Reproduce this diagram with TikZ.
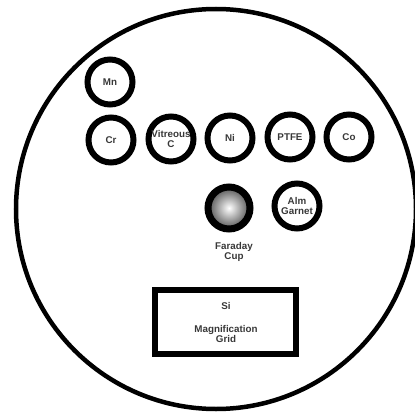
\documentclass[tikz,border=0pt]{standalone}
\usepackage{fontspec}
\setmainfont{Liberation Sans}
\begin{document}
\begin{tikzpicture}[x=1pt,y=-1pt,
  lbl/.style={font=\bfseries\fontsize{9.8}{10.8}\selectfont, text=black!78, align=center, inner sep=0pt},
  sample/.style={circle, draw=black, line width=6pt, minimum size=45pt, inner sep=0pt, lbl},
  cup/.style={circle, draw=black, line width=7pt, minimum size=42pt, inner sep=0pt, shading=radial, inner color=white, outer color=black!68},
  gridbox/.style={draw=black, line width=6pt, minimum width=141pt, minimum height=64pt, inner sep=0pt}]
\useasboundingbox (0,0) rectangle (415,412);
\clip (0,0) rectangle (415,412);
\node[circle, draw=black, line width=4.5pt, minimum size=400pt, inner sep=0pt] (holder) at (216,209) {};
\node[sample] (mn) at (110,82) {Mn};
\node[sample] (cr) at (111,140) {Cr};
\node[sample] (vc) at (171,139) {Vitreous\\C};
\node[sample] (ni) at (230,138) {Ni};
\node[sample] (ptfe) at (290,137) {PTFE};
\node[sample] (co) at (349,137) {Co};
\node[cup] (fc) at (229,208) {};
\node[sample] (alm) at (297,206) {Alm\\Garnet};
\node[lbl] (fcl) at (234,252) {Faraday\\Cup};
\node[gridbox] (si) at (225.5,322) {};
\node[lbl] (sil) at (226,306) {Si};
\node[lbl] (mgl) at (226,334) {Magnification\\Grid};
\end{tikzpicture}
\end{document}
